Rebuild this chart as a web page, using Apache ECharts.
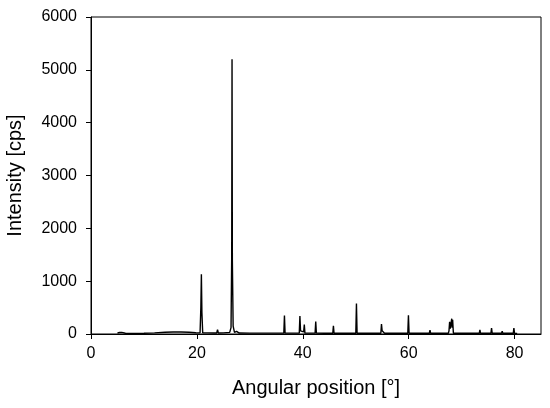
<!DOCTYPE html>
<html>
<head>
<meta charset="utf-8">
<script src="https://cdn.jsdelivr.net/npm/echarts@6/dist/echarts.min.js"></script>
<style>
  html, body { margin: 0; padding: 0; background: #fff; }
  #chart { width: 550px; height: 408px; }
</style>
</head>
<body>
<div id="chart"></div>
<script>
// diffraction pattern, points
var angles = [
  5.0, 5.4, 5.8, 6.1, 6.5, 8, 10, 12, 14, 15.5, 17, 18.5, 19.8,
  20.6, 20.75, 20.85, 20.95, 21.1, 22, 23.2,
  23.75, 23.9, 24.05, 25, 26.2, 26.45, 26.58, 26.64, 26.7, 26.85, 27.1,
  27.4, 27.5, 27.6, 28, 30, 32, 34, 35.5,
  36.42, 36.54, 36.66, 38, 39.34, 39.46, 39.58, 40.17, 40.29, 40.41,
  41.5, 42.33, 42.45, 42.57, 44, 45.67, 45.79, 45.91, 48,
  50.02, 50.14, 50.26, 52, 54.75, 54.87, 54.99, 55.32, 55.45, 57,
  59.84, 59.96, 60.08, 62, 63.91, 64.03, 64.15, 65.65, 65.78, 65.9,
  67.5, 67.62, 67.74, 67.86, 68.14, 68.22, 68.31, 68.45, 70,
  73.34, 73.46, 73.58, 75.54, 75.66, 75.78, 77.55, 77.67, 77.79,
  79.76, 79.88, 80.0, 80.5
];
var intensity = [
  20, 28, 30, 24, 14, 12, 14, 22, 32, 38, 38, 32, 24,
  22, 500, 1130, 400, 25, 22, 20,
  20, 80, 20, 22, 30, 120, 1500, 5200, 1400, 150, 30,
  22, 50, 20, 18, 16, 16, 16, 16,
  16, 350, 16, 16, 16, 340, 60, 40, 180, 16,
  16, 16, 235, 16, 15, 15, 155, 15, 15,
  15, 575, 15, 15, 15, 190, 60, 40, 14, 14,
  14, 355, 14, 14, 14, 72, 14, 14, 32, 14,
  14, 60, 230, 100, 290, 120, 270, 14, 13,
  13, 78, 13, 13, 114, 13, 13, 52, 13,
  13, 114, 13, 12
];
var xTicks = [0, 20, 40, 60, 80];
var yTicks = [0, 1000, 2000, 3000, 4000, 5000, 6000];

var points = angles.map(function (a, i) { return [a, intensity[i]]; });

var chart = echarts.init(document.getElementById('chart'));
var labelFont = 'Liberation Sans, Arial, sans-serif';
chart.setOption({
  animation: false,
  grid: {
    left: 91, right: 9, top: 17, bottom: 74,
    containLabel: false,
    outerBoundsMode: 'none',
    show: true, borderColor: '#000', borderWidth: 1
  },
  xAxis: {
    type: 'value',
    min: 0, max: 85, interval: 20,
    name: 'Angular position [°]',
    nameLocation: 'middle',
    nameGap: 44,
    nameTextStyle: { color: '#000', fontSize: 20, fontFamily: labelFont },
    axisLine: { lineStyle: { color: '#000', width: 1 } },
    axisTick: { show: true, length: 5, lineStyle: { color: '#000' } },
    axisLabel: {
      color: '#000', fontSize: 16, fontFamily: labelFont, margin: 12,
      showMaxLabel: false,
      formatter: function (v) { return xTicks.indexOf(v) >= 0 ? v : ''; }
    },
    splitLine: { show: false }
  },
  yAxis: {
    type: 'value',
    min: 0, max: 6000, interval: 1000,
    name: 'Intensity [cps]',
    nameLocation: 'middle',
    nameGap: 66,
    nameTextStyle: { color: '#000', fontSize: 20, fontFamily: labelFont },
    axisLine: { show: true, lineStyle: { color: '#000', width: 1 } },
    axisTick: { show: true, length: 5, lineStyle: { color: '#000' } },
    axisLabel: {
      color: '#000', fontSize: 16, fontFamily: labelFont, margin: 14,
      formatter: function (v) { return yTicks.indexOf(v) >= 0 ? v : ''; }
    },
    splitLine: { show: false }
  },
  series: [{
    type: 'line',
    data: points,
    showSymbol: false,
    lineStyle: { color: '#000', width: 1.4 },
    z: 3
  }]
});
</script>
</body>
</html>
